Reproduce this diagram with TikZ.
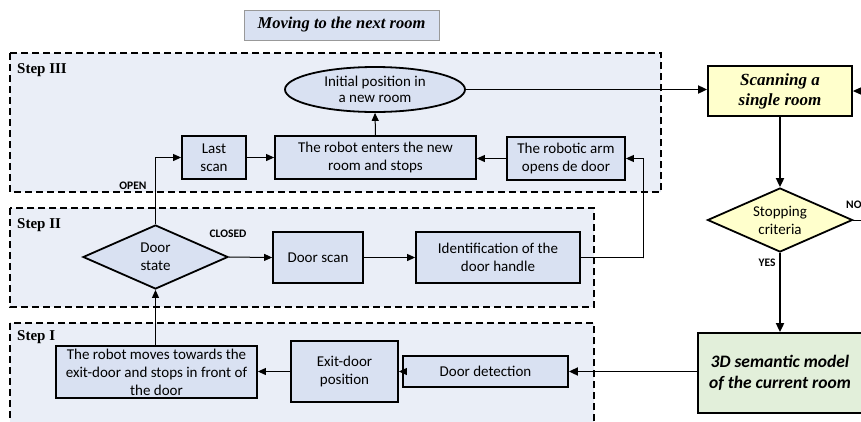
\documentclass[tikz,border=0pt]{standalone}
\usepackage{fontspec}
\setmainfont{Liberation Serif}
\setsansfont{Carlito}
\usetikzlibrary{shapes.geometric,arrows.meta}

\definecolor{stepbg}{HTML}{EAEEF7}
\definecolor{boxfill}{HTML}{D9E1F2}
\definecolor{scanfill}{HTML}{FFFFCC}
\definecolor{modelfill}{HTML}{E2EFDA}

\tikzset{
  stepframe/.style={draw, fill=stepbg, line width=1.5pt, dash pattern=on 7pt off 4pt},
  steplabel/.style={anchor=west, inner sep=0pt, font=\bfseries\fontsize{15}{17}\selectfont},
  box/.style={draw, line width=1.8pt, fill=boxfill, align=center, inner sep=0pt,
    font=\sffamily\fontsize{15}{18}\selectfont},
  decision/.style={box, diamond, aspect=2.2},
  flag/.style={inner sep=0pt, font=\sffamily\bfseries\fontsize{11.5}{13}\selectfont},
  thin arrow/.style={draw, line width=1pt, -{Triangle[length=8pt,width=7pt]}},
  main arrow/.style={draw, line width=1.8pt, -{Triangle[length=9pt,width=8pt]}},
}

\begin{document}
\begin{tikzpicture}[x=1pt, y=-1pt]
\useasboundingbox (0,0) rectangle (861,421);
\fill[white] (0,0) rectangle (861,421);

% dashed frames of the three steps
\path[stepframe] (10,53) rectangle (661,192);
\path[stepframe] (10,208) rectangle (594,307);
\path[stepframe] (10,323) rectangle (594,432);

\node[steplabel] (s3) at (17,70) {Step III};
\node[steplabel] (s2) at (17,225) {Step II};
\node[steplabel] (s1) at (17,337) {Step I};

% heading
\node[draw=black!40, line width=1pt, fill=boxfill, minimum width=195pt, minimum height=30pt,
      inner sep=0pt, font=\bfseries\itshape\fontsize{16.5}{19}\selectfont]
      (title) at (341.5,25) {Moving to the next room};

% Step III
\node[box, ellipse, minimum width=180pt, minimum height=45pt] (init) at (375,89.5)
      {Initial position in\\[-2pt]a new room};
\node[box, minimum width=64pt, minimum height=43pt] (last) at (214,157.5) {Last\\scan};
\node[box, minimum width=201pt, minimum height=43pt] (enter) at (375.5,157.5)
      {The robot enters the new\\room and stops};
\node[box, minimum width=118pt, minimum height=43pt] (arm) at (566,158.5)
      {The robotic arm\\opens de door};

% Step II
\node[decision, minimum width=145pt, minimum height=64pt] (ds) at (155.5,257) {Door\\state};
\node[box, minimum width=90pt, minimum height=51pt] (dscan) at (318,257.5) {Door scan};
\node[box, minimum width=164pt, minimum height=51pt] (ident) at (498,257.5)
      {Identification of the\\door handle};

% Step I
\node[box, minimum width=201pt, minimum height=52pt] (moves) at (156.5,372)
      {The robot moves towards the\\exit-door and stops in front of\\the door};
\node[box, minimum width=107pt, minimum height=61pt] (exit) at (344.5,371.5) {Exit-door\\position};
\node[box, minimum width=165pt, minimum height=31pt] (detect) at (485.5,371.5) {Door detection};

% room scanning loop
\node[box, fill=scanfill, minimum width=144pt, minimum height=50pt,
      font=\bfseries\itshape\fontsize{17}{20}\selectfont] (scan) at (780,91)
      {Scanning a\\single room};
\node[decision, fill=scanfill, minimum width=145pt, minimum height=64pt] (stop) at (780,220)
      {Stopping\\criteria};
\node[box, fill=modelfill, minimum width=164pt, minimum height=80pt,
      font=\sffamily\bfseries\itshape\fontsize{17.5}{21}\selectfont] (model) at (780,373)
      {3D semantic model\\of the current room};

% branch labels
\node[flag] (open) at (133,186) {OPEN};
\node[flag] (closed) at (228,234) {CLOSED};
\node[flag] (yes) at (767,263) {YES};
\node[flag, anchor=west] (no) at (846,205) {NO};

\coordinate (noturn) at (875,220);
\coordinate (armin) at (643,258);

% connectors
\path[thin arrow] (ds.north) |- (last.west);
\path[thin arrow] (last.east) -- (enter.west);
\path[thin arrow] (enter.north) -- (init.south);
\path[thin arrow] (arm.west) -- (arm.west -| enter.east);
\path[thin arrow] (ident.east) -| (armin) |- (arm.east);
\path[thin arrow] (ds.east) -- (dscan.west);
\path[thin arrow] (dscan.east) -- (ident.west);
\path[thin arrow] (moves.north -| ds.south) -- (ds.south);
\path[thin arrow] (exit.west) -- (exit.west -| moves.east);
\path[thin arrow] (detect.west) -- (detect.west -| exit.east);

\path[main arrow] (init.east) -- (init.east -| scan.west);
\path[main arrow] (scan.south) -- (stop.north);
\path[main arrow] (stop.south) -- (model.north);
\path[main arrow] (model.west |- detect.east) -- (detect.east);
\path[thin arrow] (stop.east) -| (noturn) |- (scan.east);
\end{tikzpicture}
\end{document}
